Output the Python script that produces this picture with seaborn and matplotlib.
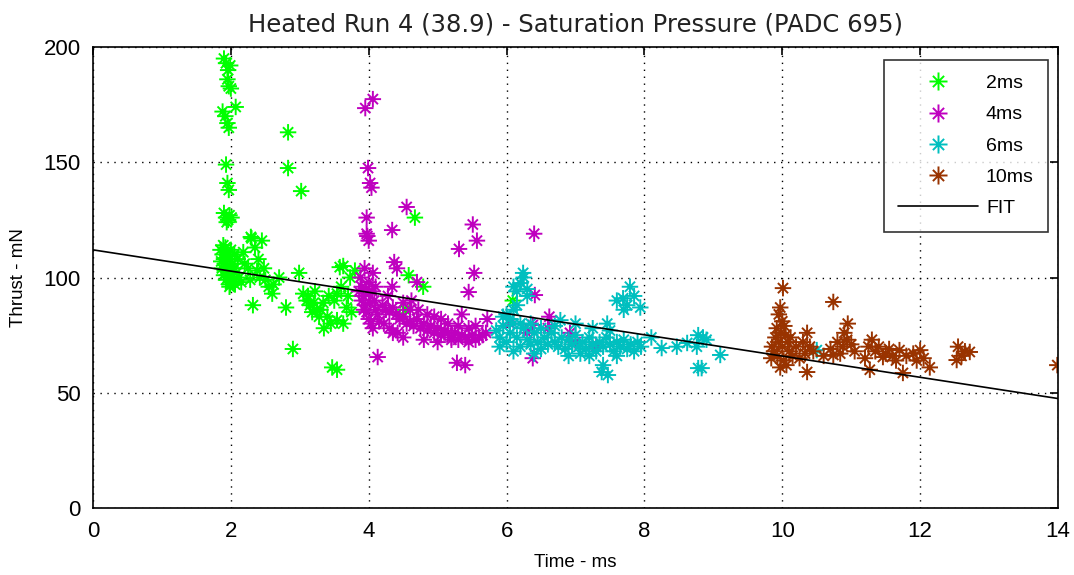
import numpy as np
import pandas as pd
import matplotlib
matplotlib.use("Agg")
import matplotlib.pyplot as plt
from matplotlib.path import Path
from matplotlib.lines import Line2D
import seaborn as sns

# ---------------- data ----------------
x_2ms = [1.90, 1.93, 1.96, 1.99, 1.95, 1.97, 2.00, 2.07, 1.88, 1.92, 1.95, 1.97, 1.93, 1.95, 1.97,
         1.90, 1.93, 1.96, 1.98, 1.94, 2.01, 2.83, 2.83, 3.02, 2.29,
         1.85, 1.88, 1.90, 1.92, 1.95, 1.97, 2.00, 2.03, 2.06, 1.87, 1.90, 1.93, 1.95, 1.98, 2.02,
         2.05, 2.08, 1.89, 1.92, 2.00, 2.10, 2.12, 2.15, 1.98, 2.05, 2.18, 2.20,
         1.86, 1.91, 1.96, 2.01, 2.04, 1.94, 1.99,
         2.30, 2.35, 2.38, 2.45, 2.50, 2.55, 2.60, 2.62, 2.70, 2.32, 2.80, 2.90, 2.25, 2.40, 2.28,
         2.42, 2.48, 2.99,
         3.05, 3.10, 3.15, 3.20, 3.25, 3.30, 3.34, 3.40, 3.18, 3.12, 3.22, 3.28, 3.45, 3.54, 3.54,
         3.58, 3.63, 3.73, 3.68, 3.63, 3.50, 3.60, 3.80, 3.47, 3.54, 3.35, 3.42, 3.70, 3.75,
         4.67, 4.58, 4.79, 6.09, 4.53]
y_2ms = [195, 193, 190, 192, 186, 183, 182, 174, 172, 170, 167, 165, 149, 141, 138,
         128, 126, 125, 127, 124, 126, 163, 147.5, 137.5, 117.6,
         112, 110, 108, 106, 104, 102, 100, 98, 97, 104, 101, 99, 110, 108, 106,
         104, 102, 114, 113, 112, 108, 100, 98, 96, 110, 111, 106,
         107, 103, 100, 104, 99, 111, 97,
         117, 113, 103, 116, 99, 96, 93, 97, 100, 88, 87, 69, 104, 108, 99,
         100, 104, 102,
         93, 90, 88, 89, 86, 86, 89, 83, 85, 92, 94, 83, 80, 81.5, 93,
         104.5, 105, 100, 87, 80, 90, 96, 103, 61, 60, 78, 92, 92, 85,
         126, 101, 96, 90, 86]

x_4ms = [3.95, 4.06, 3.99, 4.02, 4.04, 3.97, 3.97, 4.00, 3.98,
         4.55, 4.34, 5.51, 5.57, 5.31, 4.37, 4.41, 5.53, 5.45, 4.34, 4.70, 6.40, 6.41, 6.62, 6.38,
         6.38, 5.28, 5.40, 5.20, 5.72, 6.92, 4.13, 4.35, 4.50, 4.06,
         3.88, 3.90, 3.92, 3.95, 3.97, 4.00, 4.03, 4.06, 3.90, 3.93, 3.96, 4.00, 4.05, 4.08, 4.10,
         4.13, 4.15, 4.02, 3.94, 4.00, 3.86, 4.10,
         4.20, 4.25, 4.30, 4.35, 4.40, 4.45, 4.50, 4.55, 4.60, 4.65, 4.70, 4.75, 4.80, 4.85, 4.90,
         4.95, 5.00, 5.05, 5.10, 5.15, 5.20, 5.25, 5.30, 5.35, 5.40, 5.45, 5.50, 5.55, 5.60, 5.65,
         5.70, 4.22, 4.30, 4.42, 4.60, 4.72, 4.85, 4.95, 5.05, 5.15, 5.30, 5.45, 4.50, 4.80, 5.00,
         4.28, 4.62, 5.35, 5.55, 6.05, 6.30, 6.60, 7.00, 7.30]
y_4ms = [173.5, 177.4, 147.5, 141, 139, 126, 119, 116, 118,
         130.6, 120.6, 123, 116, 112.4, 106.7, 104, 102, 93.7, 96, 98, 119, 92.4, 83, 79.4,
         65, 63, 62, 73, 82, 76, 65.5, 76, 74, 102,
         100, 96, 92, 88, 85, 82, 80, 78, 90, 86, 95, 98, 94, 90, 86,
         84, 81, 89, 104, 93, 94, 96,
         88, 86, 85, 87, 84, 82, 83, 80, 81, 79, 82, 78, 80, 77, 79,
         76, 78, 75, 77, 76, 74, 76, 73, 75, 74, 72, 75, 73, 74, 75,
         76, 80, 78, 76, 86, 86, 84, 83, 82, 80, 79, 78, 89, 73, 72,
         92, 90, 84, 79, 80, 76, 78, 72, 70]

x_6ms = [6.24, 6.20, 6.10, 6.30, 7.79, 7.69, 7.60, 7.94, 7.75, 7.85, 7.70, 7.46, 6.78, 7.07,
         7.40, 7.47, 7.38, 8.10, 8.25, 8.47, 8.78, 8.90, 8.76, 8.78, 9.10, 8.62, 8.85, 8.83,
         5.85, 5.90, 5.95, 6.00, 6.05, 6.10, 6.15, 6.20, 6.25, 6.30, 6.35, 6.40, 6.45, 6.50, 6.55,
         6.60, 6.65, 6.70, 6.75, 6.80, 6.85, 6.90, 6.95, 7.00, 7.05, 7.10, 7.15, 7.20, 7.25, 7.30,
         7.35, 7.40, 7.45, 7.50, 7.55, 7.60, 7.65, 7.70, 7.75, 7.80, 7.85, 7.90, 7.95,
         6.00, 6.10, 6.05, 5.95, 6.15, 6.20, 6.35, 6.50, 6.70, 7.00, 7.25, 7.50, 6.10, 6.40, 6.90,
         7.20, 7.60, 5.90, 6.25, 6.15, 6.30, 10.50]
y_6ms = [102, 97.6, 96, 95, 96, 91, 90, 87, 88, 92, 86, 80, 81.5, 67,
         62, 57.7, 59, 74, 69.4, 70, 75, 73, 70, 60.7, 66.4, 71.6, 74, 60.7,
         77, 74, 79, 72, 76, 80, 74, 70, 78, 73, 71, 76, 72, 69, 74,
         71, 76, 72, 70, 74, 69, 73, 71, 75, 70, 72, 69, 74, 71, 68,
         72, 70, 74, 71, 68, 72, 70, 73, 69, 71, 68, 72, 70,
         84, 86, 82, 83, 88, 80, 80, 78, 79, 80, 78, 77, 68, 67, 66,
         66, 66, 70, 100, 94, 92, 68.5]

x_10ms = [10.01, 9.97, 9.95, 10.00, 9.92, 9.98, 10.03, 9.90, 9.95, 10.05, 9.85, 9.88, 9.93,
          10.00, 10.08, 10.10, 10.02, 9.97, 10.15, 10.20, 9.84, 10.06, 10.12, 10.36, 10.30,
          10.40, 10.33, 10.45, 10.36, 10.25, 10.74, 10.95, 10.90, 10.94, 10.84, 10.74, 10.88,
          11.00, 10.80, 11.05, 11.30, 11.27, 11.46, 11.25, 11.35, 11.40, 11.50, 11.55, 11.60,
          11.70, 11.75, 11.80, 11.90, 12.00, 12.05, 12.14, 11.95, 11.65, 12.55, 12.72, 12.53,
          12.60, 12.65, 13.99, 11.20, 10.60, 10.70]
y_10ms = [95.4, 87, 84, 81, 78, 76, 79, 74, 72, 75, 70, 68, 66,
          70, 72, 68, 64, 61, 66, 70, 65, 62, 74, 76, 72,
          70, 67, 68, 59, 65, 89.4, 80, 76, 73, 67, 66.4, 70,
          71, 72, 68, 73, 60, 65.5, 70, 68, 70, 67, 69, 66,
          68.5, 58.6, 66, 67, 68.5, 65, 61, 64, 64, 70, 67.7, 64.2,
          66, 68, 62, 65, 66, 69]

fit_x = [0, 14]
fit_y = [112, 47.5]

series_names = ["2ms", "4ms", "6ms", "10ms"]
series_colors = ["#00ff00", "#bf00bf", "#00bfbf", "#993300"]
x_ticks = [0, 2, 4, 6, 8, 10, 12, 14]
y_ticks = [0, 50, 100, 150, 200]
title = "Heated Run 4 (38.9) - Saturation Pressure (PADC 695)"
xlabel = "Time - ms"
ylabel = "Thrust - mN"

# ---------------- build frame ----------------
frames = []
for name, xs, ys in zip(series_names, [x_2ms, x_4ms, x_6ms, x_10ms], [y_2ms, y_4ms, y_6ms, y_10ms]):
    frames.append(pd.DataFrame({"Time": xs, "Thrust": ys, "series": name}))
df = pd.concat(frames, ignore_index=True)
fit_df = pd.DataFrame({"Time": fit_x, "Thrust": fit_y})

sns.set_theme(style="white")
plt.rcParams["font.family"] = ["Liberation Sans", "DejaVu Sans"]
plt.rcParams["text.color"] = "black"
plt.rcParams["axes.labelcolor"] = "black"

# MATLAB-like asterisk marker: plus with shorter diagonals
s = 0.62
star = Path([(-1, 0), (1, 0), (0, -1), (0, 1), (-s, -s), (s, s), (-s, s), (s, -s)],
            [Path.MOVETO, Path.LINETO] * 4)

fig = plt.figure(figsize=(10.74, 5.75), dpi=100)
ax = fig.add_axes([0.0866, 0.1165, 0.8985, 0.8017])

palette = dict(zip(series_names, series_colors))
sns.scatterplot(data=df, x="Time", y="Thrust", hue="series", palette=palette,
                marker=star, s=140, linewidth=1.4, edgecolor="face", legend=False, ax=ax)
sns.lineplot(data=fit_df, x="Time", y="Thrust", color="black", linewidth=1.2, ax=ax)

ax.set_xlim(0, 14)
ax.set_ylim(0, 200)
ax.set_xticks(x_ticks)
ax.set_yticks(y_ticks)
ax.grid(True, color="black", linestyle=(0, (1, 4)), linewidth=1.0)
for sp in ax.spines.values():
    sp.set_visible(True)
    sp.set_color("black")
    sp.set_linewidth(1.2)
ax.tick_params(direction="in", length=6, width=1.2, top=True, right=True,
               labelsize=16, pad=9, colors="black")

ax.set_title(title, fontsize=17.5, pad=11, family=["DejaVu Sans"], color="#222222")
ax.set_xlabel(xlabel, fontsize=13.5, labelpad=9)
ax.set_ylabel(ylabel, fontsize=13.5, labelpad=12)

handles = [Line2D([], [], linestyle="none", marker=star, markersize=13, markeredgewidth=1.4,
                  color=c) for c in series_colors]
handles.append(Line2D([], [], color="black", linewidth=1.2))
leg = ax.legend(handles, series_names + ["FIT"], loc="upper right", bbox_to_anchor=(0.99, 0.972),
                fontsize=14, frameon=True, fancybox=False, handlelength=4.1, handletextpad=0.4,
                borderpad=0.75, labelspacing=0.7, borderaxespad=0)
leg.get_frame().set_edgecolor("black")
leg.get_frame().set_linewidth(1.2)

fig.savefig("out.png", dpi=100)
